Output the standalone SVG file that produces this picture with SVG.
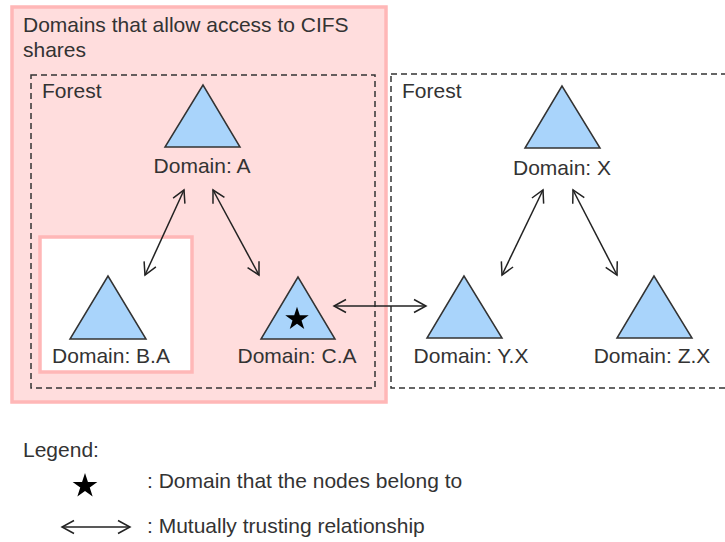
<svg xmlns="http://www.w3.org/2000/svg" width="725" height="542" viewBox="0 0 725 542">
<style>
text{font-family:"Liberation Sans",Arial,sans-serif;font-size:21px;fill:#333}
.tri{fill:#A9D4FB;stroke:#333;stroke-width:1.5;stroke-linejoin:miter}
.forest{fill:none;stroke:#333;stroke-width:1.5;stroke-dasharray:6 4}
.conn{stroke:#222;stroke-width:1.5;fill:none;marker-start:url(#ah);marker-end:url(#ah)}
.lbl{text-anchor:middle}
</style>
<defs>
<marker id="ah" viewBox="-14 -8 16 16" markerWidth="16" markerHeight="16" refX="0" refY="0" orient="auto-start-reverse" markerUnits="userSpaceOnUse">
<path d="M-12,-6.5 L0,0 L-12,6.5" fill="none" stroke="#222" stroke-width="1.5"/>
</marker>
<path id="star" d="M0,-13 L2.94,-4.05 L12.36,-4.02 L4.76,1.55 L7.64,10.52 L0,5 L-7.64,10.52 L-4.76,1.55 L-12.36,-4.02 L-2.94,-4.05 Z" fill="#000"/>
</defs>
<g id="cifs-area">
<rect x="12" y="7" width="374" height="395" fill="#FFDDDD" stroke="#FFB7B7" stroke-width="3.5"/>
<text x="23" y="32">Domains that allow access to CIFS</text>
<text x="23" y="57">shares</text>
</g>
<g id="ba-box">
<rect x="40" y="237" width="152" height="135" fill="#FFFFFF" stroke="#FFB7B7" stroke-width="3.5"/>
</g>
<g id="forest-left">
<rect class="forest" x="31" y="75" width="344" height="313"/>
<text x="42" y="98">Forest</text>
</g>
<g id="forest-right">
<rect class="forest" x="391" y="74" width="345" height="314"/>
<text x="402" y="98">Forest</text>
</g>
<g id="domain-a">
<polygon class="tri" points="203,85 165,147 240,147"/>
<text class="lbl" x="202" y="173">Domain: A</text>
</g>
<g id="domain-ba">
<polygon class="tri" points="108,276 70,339 146,339"/>
<text class="lbl" x="111" y="363">Domain: B.A</text>
</g>
<g id="domain-ca">
<polygon class="tri" points="298,277 261,339 335,339"/>
<use href="#star" transform="translate(297,319) scale(0.95)"/>
<text class="lbl" x="297" y="363">Domain: C.A</text>
</g>
<g id="domain-x">
<polygon class="tri" points="562,86 525,148 600,148"/>
<text class="lbl" x="562" y="175">Domain: X</text>
</g>
<g id="domain-yx">
<polygon class="tri" points="464,276 427,338 502,338"/>
<text class="lbl" x="471" y="363">Domain: Y.X</text>
</g>
<g id="domain-zx">
<polygon class="tri" points="654,276 617,338 692,338"/>
<text class="lbl" x="652" y="363">Domain: Z.X</text>
</g>
<g id="connectors">
<line class="conn" x1="184" y1="190" x2="145" y2="275"/>
<line class="conn" x1="213" y1="190" x2="259" y2="275"/>
<line class="conn" x1="334" y1="306" x2="426" y2="306"/>
<line class="conn" x1="543" y1="190" x2="502" y2="275"/>
<line class="conn" x1="573" y1="190" x2="617" y2="275"/>
</g>
<g id="legend">
<text x="23" y="457">Legend:</text>
<use href="#star" transform="translate(85,486)"/>
<text x="147" y="488">: Domain that the nodes belong to</text>
<line class="conn" x1="62" y1="527" x2="130" y2="527"/>
<text x="147" y="533">: Mutually trusting relationship</text>
</g>
</svg>
